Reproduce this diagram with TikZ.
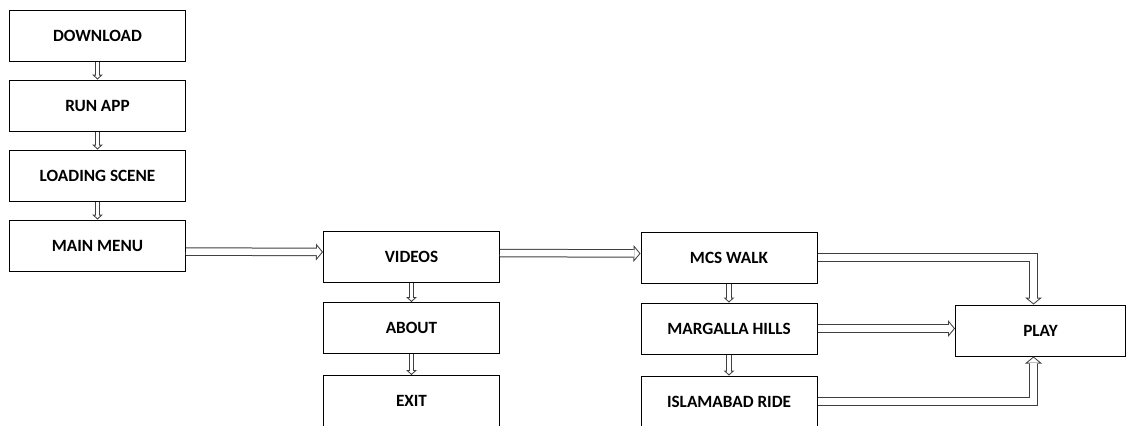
\documentclass[tikz,border=0pt]{standalone}
\usepackage{fontspec}
\setmainfont{Carlito}
\usetikzlibrary{arrows.meta,positioning}

\begin{document}
\begin{tikzpicture}[x=0.5pt, y=-0.5pt, node distance=35pt, auto,
		block/.style={rectangle, draw, line width=0.5pt, minimum width=88pt, minimum height=25.5pt, inner sep=0pt, font=\bfseries\fontsize{8.6}{10}\selectfont},
		line/.style={draw=black!75, line width=4.25pt, -{Triangle[length=3.5pt, width=8.5pt, line width=0pt]},
			postaction={draw=white, line width=3.25pt, shorten >=0.65pt, -{Triangle[length=2.35pt, width=5.7pt, line width=0pt]}}},
		smallline/.style={draw=black!75, line width=2.75pt, -{Triangle[length=2.5pt, width=5.5pt, line width=0pt]},
			postaction={draw=white, line width=1.75pt, shorten >=0.68pt, -{Triangle[length=1.32pt, width=2.92pt, line width=0pt]}}}]
		\useasboundingbox (0,0) rectangle (1126,425);
		\clip (0,0) rectangle (1126,425);
		% Nodes
		\node [block] (download) at (97.5,35.5) {DOWNLOAD};
		\node [block, below of=download] (runapp) {RUN APP};
		\node [block, below of=runapp] (loading) {LOADING SCENE};
		\node [block, below of=loading] (mainmenu) {MAIN MENU};
		\node [block] (videos) at (411.5,257) {VIDEOS};
		\node [block, below of=videos, node distance=35.5pt] (about) {ABOUT};
		\node [block, below of=about, node distance=36.5pt] (exit) {EXIT};
		\node [block] (mcswalk) at (729,257.5) {MCS WALK};
		\node [block, below of=mcswalk, node distance=35.5pt] (margalla) {MARGALLA HILLS};
		\node [block, below of=margalla, node distance=36.5pt] (islamabad) {ISLAMABAD RIDE};
		\node [block, minimum width=85pt] (play) at (1040.5,330.5) {PLAY};

		% Paths
		\path [smallline] (download) -- (runapp);
		\path [smallline] (runapp) -- (loading);
		\path [smallline] (loading) -- (mainmenu);
		\path [line] ([yshift=-3pt]mainmenu.east) -- ([yshift=2.5pt]videos.west);
		\path [smallline] (videos) -- (about);
		\path [smallline] (about) -- (exit);
		\path [line] ([yshift=2pt]videos.east) -- ([yshift=2pt]mcswalk.west);
		\path [smallline] (mcswalk) -- (margalla);
		\path [smallline] (margalla) -- (islamabad);
		\path [line] (mcswalk.east) -| ([xshift=-3.5pt]play.north);
		\path [line] (margalla.east) -- (margalla.east -| play.west);
		\path [line] (islamabad.east) -| ([xshift=-3.5pt]play.south);
	\end{tikzpicture}
\end{document}
